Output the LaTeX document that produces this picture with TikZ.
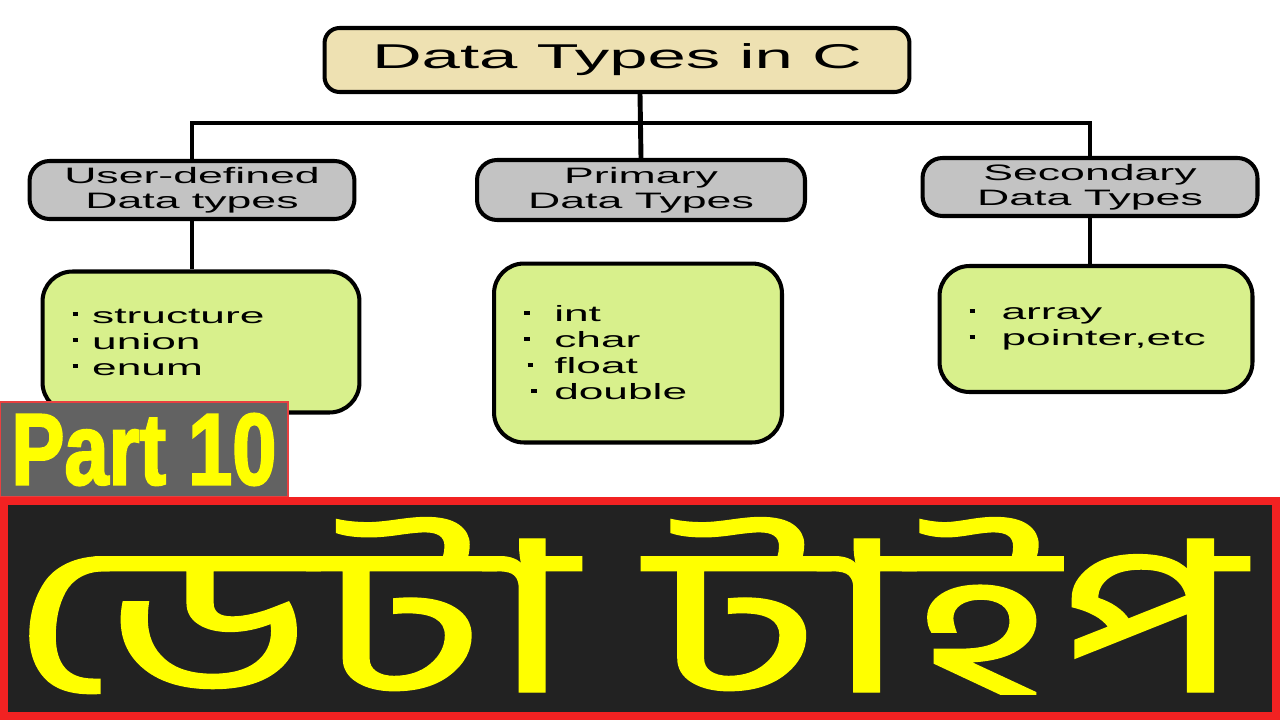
\documentclass[tikz,border=0pt]{standalone}
\usepackage{fontspec}
\usepackage{xcolor}
\usepackage{tikz}
\setmainfont{Liberation Sans}
\newfontfamily\widefont{Liberation Sans}[FakeStretch=2.0]
\newfontfamily\partfont{Liberation Sans}[FakeStretch=0.78,FakeBold=2]
\newfontfamily\banglafont[Script=Bengali,FakeBold=0.6]{Hind Siliguri}
\definecolor{titlefill}{HTML}{EEE1B2}
\definecolor{catfill}{HTML}{C3C3C3}
\definecolor{listfill}{HTML}{D8F08C}
\definecolor{partgray}{HTML}{626262}
\definecolor{partred}{HTML}{E84040}
\definecolor{bannerred}{HTML}{F22222}
\definecolor{bannerdark}{HTML}{222222}
\definecolor{hiyellow}{HTML}{FFFF00}
\newcommand{\bul}{\rule[0.3em]{3.2pt}{2.4pt}}
\tikzstyle{titlebox} = [rectangle, rounded corners=0.3cm, minimum width=11.7cm, minimum height=1.28cm, text centered, draw=black, line width=2.3pt, fill=titlefill, font=\widefont\fontsize{19.6}{22}\selectfont]
\tikzstyle{catbox} = [rectangle, rounded corners=0.4cm, minimum height=1.16cm, align=center, draw=black, line width=2.3pt, fill=catfill, inner sep=0pt, font=\widefont\fontsize{12.7}{14.2}\selectfont]
\tikzstyle{listbox} = [rectangle, rounded corners=0.6cm, align=left, draw=black, line width=2.3pt, fill=listfill, inner xsep=0.6cm, font=\widefont\fontsize{12.6}{14.8}\selectfont]
\tikzstyle{partbox} = [rectangle, minimum width=5.76cm, minimum height=1.9cm, draw=partred, line width=1.2pt, fill=partgray, text=hiyellow, font=\partfont\bfseries\fontsize{58}{60}\selectfont]
\tikzstyle{banner} = [rectangle, minimum width=25.44cm, minimum height=4.3cm, draw=bannerred, line width=4.5pt, fill=bannerdark]
\tikzstyle{link} = [line width=2.8pt]

\begin{document}
\begin{tikzpicture}[x=0.02cm, y=-0.02cm]
\useasboundingbox (0,0) rectangle (1280,720);

\node (title) [titlebox] at (617,60) {Data Types in C};

\node (user) [catbox, minimum width=6.5cm] at (192,190) {User-defined\\Data types};
\node (prim) [catbox, minimum width=6.56cm, minimum height=1.2cm] at (641,190) {Primary\\Data Types};
\node (sec) [catbox, minimum width=6.7cm] at (1090,187) {Secondary\\Data Types};

\node (userlist) [listbox, text width=5.14cm, minimum height=2.82cm] at (201,342)
  {\bul\hspace{8pt}structure\\\bul\hspace{8pt}union\\\bul\hspace{8pt}enum};
\node (primlist) [listbox, text width=4.56cm, minimum height=3.58cm] at (638,353)
  {\bul\hspace{14pt}int\\\bul\hspace{14pt}char\\\hspace{2pt}\bul\hspace{12pt}float\\\hspace{4pt}\bul\hspace{10pt}double};
\node (seclist) [listbox, text width=5.06cm, minimum height=2.52cm] at (1096,329)
  {\bul\hspace{15pt}array\\\bul\hspace{15pt}pointer,etc};

\coordinate (bus) at (640,123);

\draw [link] (bus |- title.south) -- (prim.north);
\draw [link] (user.north) |- (bus) -| (sec.north);
\draw [link] (user.south) -- (user.south |- userlist.north);
\draw [link] (sec.south) -- (sec.south |- seclist.north);

\node (part) [partbox] at (144,449.5) {\raisebox{-3.4pt}{Part 10}};

\node (band) [banner] at (640,608.5) {};
\node (bangla) [anchor=base, text=hiyellow, inner sep=0pt, font=\banglafont\fontsize{150}{150}\selectfont] at (626,692) {\scalebox{1.23}[0.8]{ডেটা টাইপ}};

\end{tikzpicture}
\end{document}
